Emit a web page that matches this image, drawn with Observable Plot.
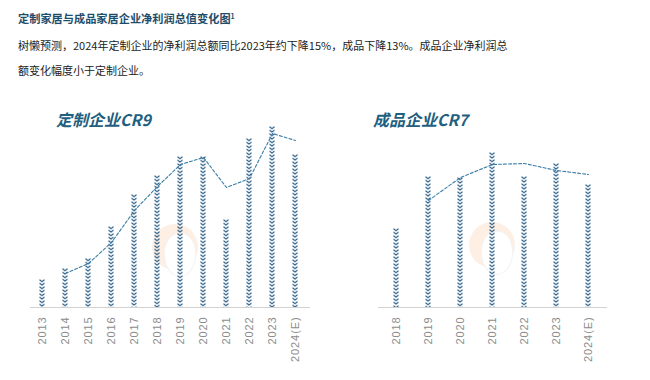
<!DOCTYPE html>
<html><head><meta charset="utf-8">
<script src="https://cdn.jsdelivr.net/npm/d3@7"></script>
<script src="https://cdn.jsdelivr.net/npm/@observablehq/plot@0.6"></script>
<style>
body{margin:0;background:#fff;font-family:"Noto Sans CJK SC","Noto Sans",sans-serif;}
#wrap{position:relative;width:650px;height:380px;overflow:hidden;background:#fff}
.title{position:absolute;left:18px;top:10px;font-size:11.2px;font-weight:bold;color:#1e4d6b;line-height:16px;white-space:nowrap}
.title sup{font-size:7px;vertical-align:top;position:relative;top:-2px}
.sub{position:absolute;left:18px;top:33px;font-size:11px;color:#222;line-height:25px}
.sub span{display:block;white-space:nowrap}
.ct{position:absolute;top:108px;font-size:16px;font-weight:bold;font-style:italic;color:#1f5f80;line-height:22px;white-space:nowrap}
.wm{position:absolute;width:46px;height:46px;border-radius:50%;background:#fde9da;opacity:0.7;overflow:visible}
.wm .face{position:absolute;left:12px;top:9px;width:30px;height:42px;border-radius:45% 45% 50% 50%;background:#fff;border:1px solid #eeeeee}
.plot{position:absolute;top:95px}
</style></head><body>
<div id="wrap">
<div class="title">定制家居与成品家居企业净利润总值变化图<sup>1</sup></div>
<div class="sub"><span>树懒预测，2024年定制企业的净利润总额同比2023年约下降15%，成品下降13%。成品企业净利润总</span><span>额变化幅度小于定制企业。</span></div>
<div class="wm" style="left:152px;top:224px"><div class="face"></div></div>
<div class="wm" style="left:469px;top:222px"><div class="face"></div></div>
<div class="ct" style="left:56px">定制企业CR9</div>
<div class="ct" style="left:373px">成品企业CR7</div>
<div id="left" class="plot" style="left:0px"></div>
<div id="right" class="plot" style="left:330px"></div>
</div>
<script>
// 定制企业CR9 (relative net profit)
const yearsA = ["2013","2014","2015","2016","2017","2018","2019","2020","2021","2022","2023","2024(E)"];
const valuesA = [28, 39, 49, 81, 113, 132, 151, 151, 88, 169, 181, 153];
// trend line (dashed)
const trendYearsA = ["2014","2015","2016","2017","2018","2019","2020","2021","2022","2023","2024(E)"];
const trendA = [34, 44, 65, 97, 121, 143, 150, 120, 129, 174, 167];

// 成品企业CR7
const yearsB = ["2018","2019","2020","2021","2022","2023","2024(E)"];
const valuesB = [79, 131, 130, 155, 131, 144, 123];
const trendYearsB = ["2019","2020","2021","2022","2023","2024(E)"];
const trendB = [107, 130, 143, 144, 137, 133];

const barColor = "#174f7c";
const lineColor = "#3a7ea8";

function chart(years, values, tYears, tVals, xRange, padding, left, right, id) {
  const bars = years.map((y, i) => ({year: y, v: values[i]}));
  const trend = tYears.map((y, i) => ({year: y, v: tVals[i]}));
  const p = Plot.plot({
    width: 320, height: 285,
    marginLeft: left, marginRight: 320 - right, marginTop: 12, marginBottom: 73,
    x: {domain: years, range: xRange, paddingInner: padding, paddingOuter: padding, axis: null},
    y: {domain: [0, 200], range: [212, 12], axis: null},
    style: {background: "transparent", overflow: "visible"},
    marks: [
      Plot.barY(bars, {x: "year", y: "v", fill: barColor}),
      Plot.ruleY([0], {stroke: "#d2d2d2", strokeWidth: 1}),
      Plot.lineY(trend, {x: "year", y: "v", stroke: lineColor, strokeWidth: 1.1, strokeDasharray: "3,2"}),
      Plot.axisX({tickRotate: -90, tickSize: 0, tickPadding: 9, fontSize: 11, fill: "#8c8c8c", label: null,
        fontFamily: "'Liberation Sans', Arial, sans-serif"})
    ]
  });
  const svg = d3.select(p);
  svg.selectAll("g[aria-label='x-axis tick label'] text").style("letter-spacing", "0.9px");
  const defs = svg.insert("defs", ":first-child");
  svg.selectAll("g[aria-label=bar] rect").each(function(d, i) {
    const r = d3.select(this);
    const x = +r.attr("x"), w = +r.attr("width"), y = +r.attr("y");
    const pid = id + "-pat-" + i;
    const pat = defs.append("pattern").attr("id", pid).attr("patternUnits", "userSpaceOnUse")
      .attr("x", x).attr("y", y).attr("width", w).attr("height", 3.5);
    pat.append("path").attr("d", `M0.5,0.6 L${w/2},2.6 L${w-0.5},0.6`)
      .attr("fill", "none").attr("stroke", barColor).attr("stroke-width", 1.15);
    r.attr("fill", `url(#${pid})`);
  });
  document.getElementById(id).appendChild(p);
}

chart(yearsA, valuesA, trendYearsA, trendA, [18.5, 318.5], 0.745, 30, 310, "left");
chart(yearsB, valuesB, trendYearsB, trendB, [34.5, 290.5], 0.8, 48, 277, "right");
</script>
</body></html>
